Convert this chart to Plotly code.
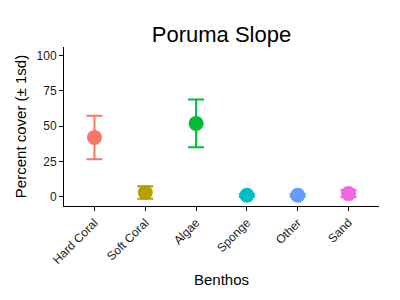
import plotly.graph_objects as go

categories = ["Hard Coral", "Soft Coral", "Algae", "Sponge", "Other", "Sand"]
means = [42, 3, 52, 1, 1, 2.2]
sds = [15.5, 4.5, 17, 1, 1, 2.5]
colors = ["#F8766D", "#B79F00", "#00BA38", "#00BFC4", "#619CFF", "#F564E3"]

fig = go.Figure()
for c, m, s, col in zip(categories, means, sds, colors):
    fig.add_trace(go.Scatter(
        x=[c], y=[m], mode="markers",
        marker=dict(color=col, size=15),
        error_y=dict(type="data", array=[s], color=col, thickness=2, width=8),
        showlegend=False,
    ))

fig.update_layout(
    width=400, height=300,
    margin=dict(l=64, r=21, t=47, b=94),
    paper_bgcolor="white", plot_bgcolor="white",
    font=dict(family="Liberation Sans, Arial, sans-serif", color="black"),
    title=dict(text="Poruma Slope", x=(64 + 379) / 2 / 400, xanchor="center",
               y=0.885, yanchor="middle", font=dict(size=22, color="black")),
)
fig.update_xaxes(
    type="category", categoryorder="array", categoryarray=categories,
    range=[-0.6, 5.6], showline=True, linecolor="black", linewidth=1,
    ticks="outside", ticklen=4, tickcolor="black", tickangle=-45,
    tickfont=dict(size=12, color="#1a1a1a"), showgrid=False, zeroline=False,
    title=dict(text="Benthos", font=dict(size=15), standoff=8),
)
fig.update_yaxes(
    range=[-6.6, 106.2], tickvals=[0, 25, 50, 75, 100],
    showline=True, linecolor="black", linewidth=1,
    ticks="outside", ticklen=4, tickcolor="black",
    tickfont=dict(size=12, color="#1a1a1a"), showgrid=False, zeroline=False,
    title=dict(text="Percent cover (± 1sd)", font=dict(size=15), standoff=6),
)

fig.write_html("out.html")
